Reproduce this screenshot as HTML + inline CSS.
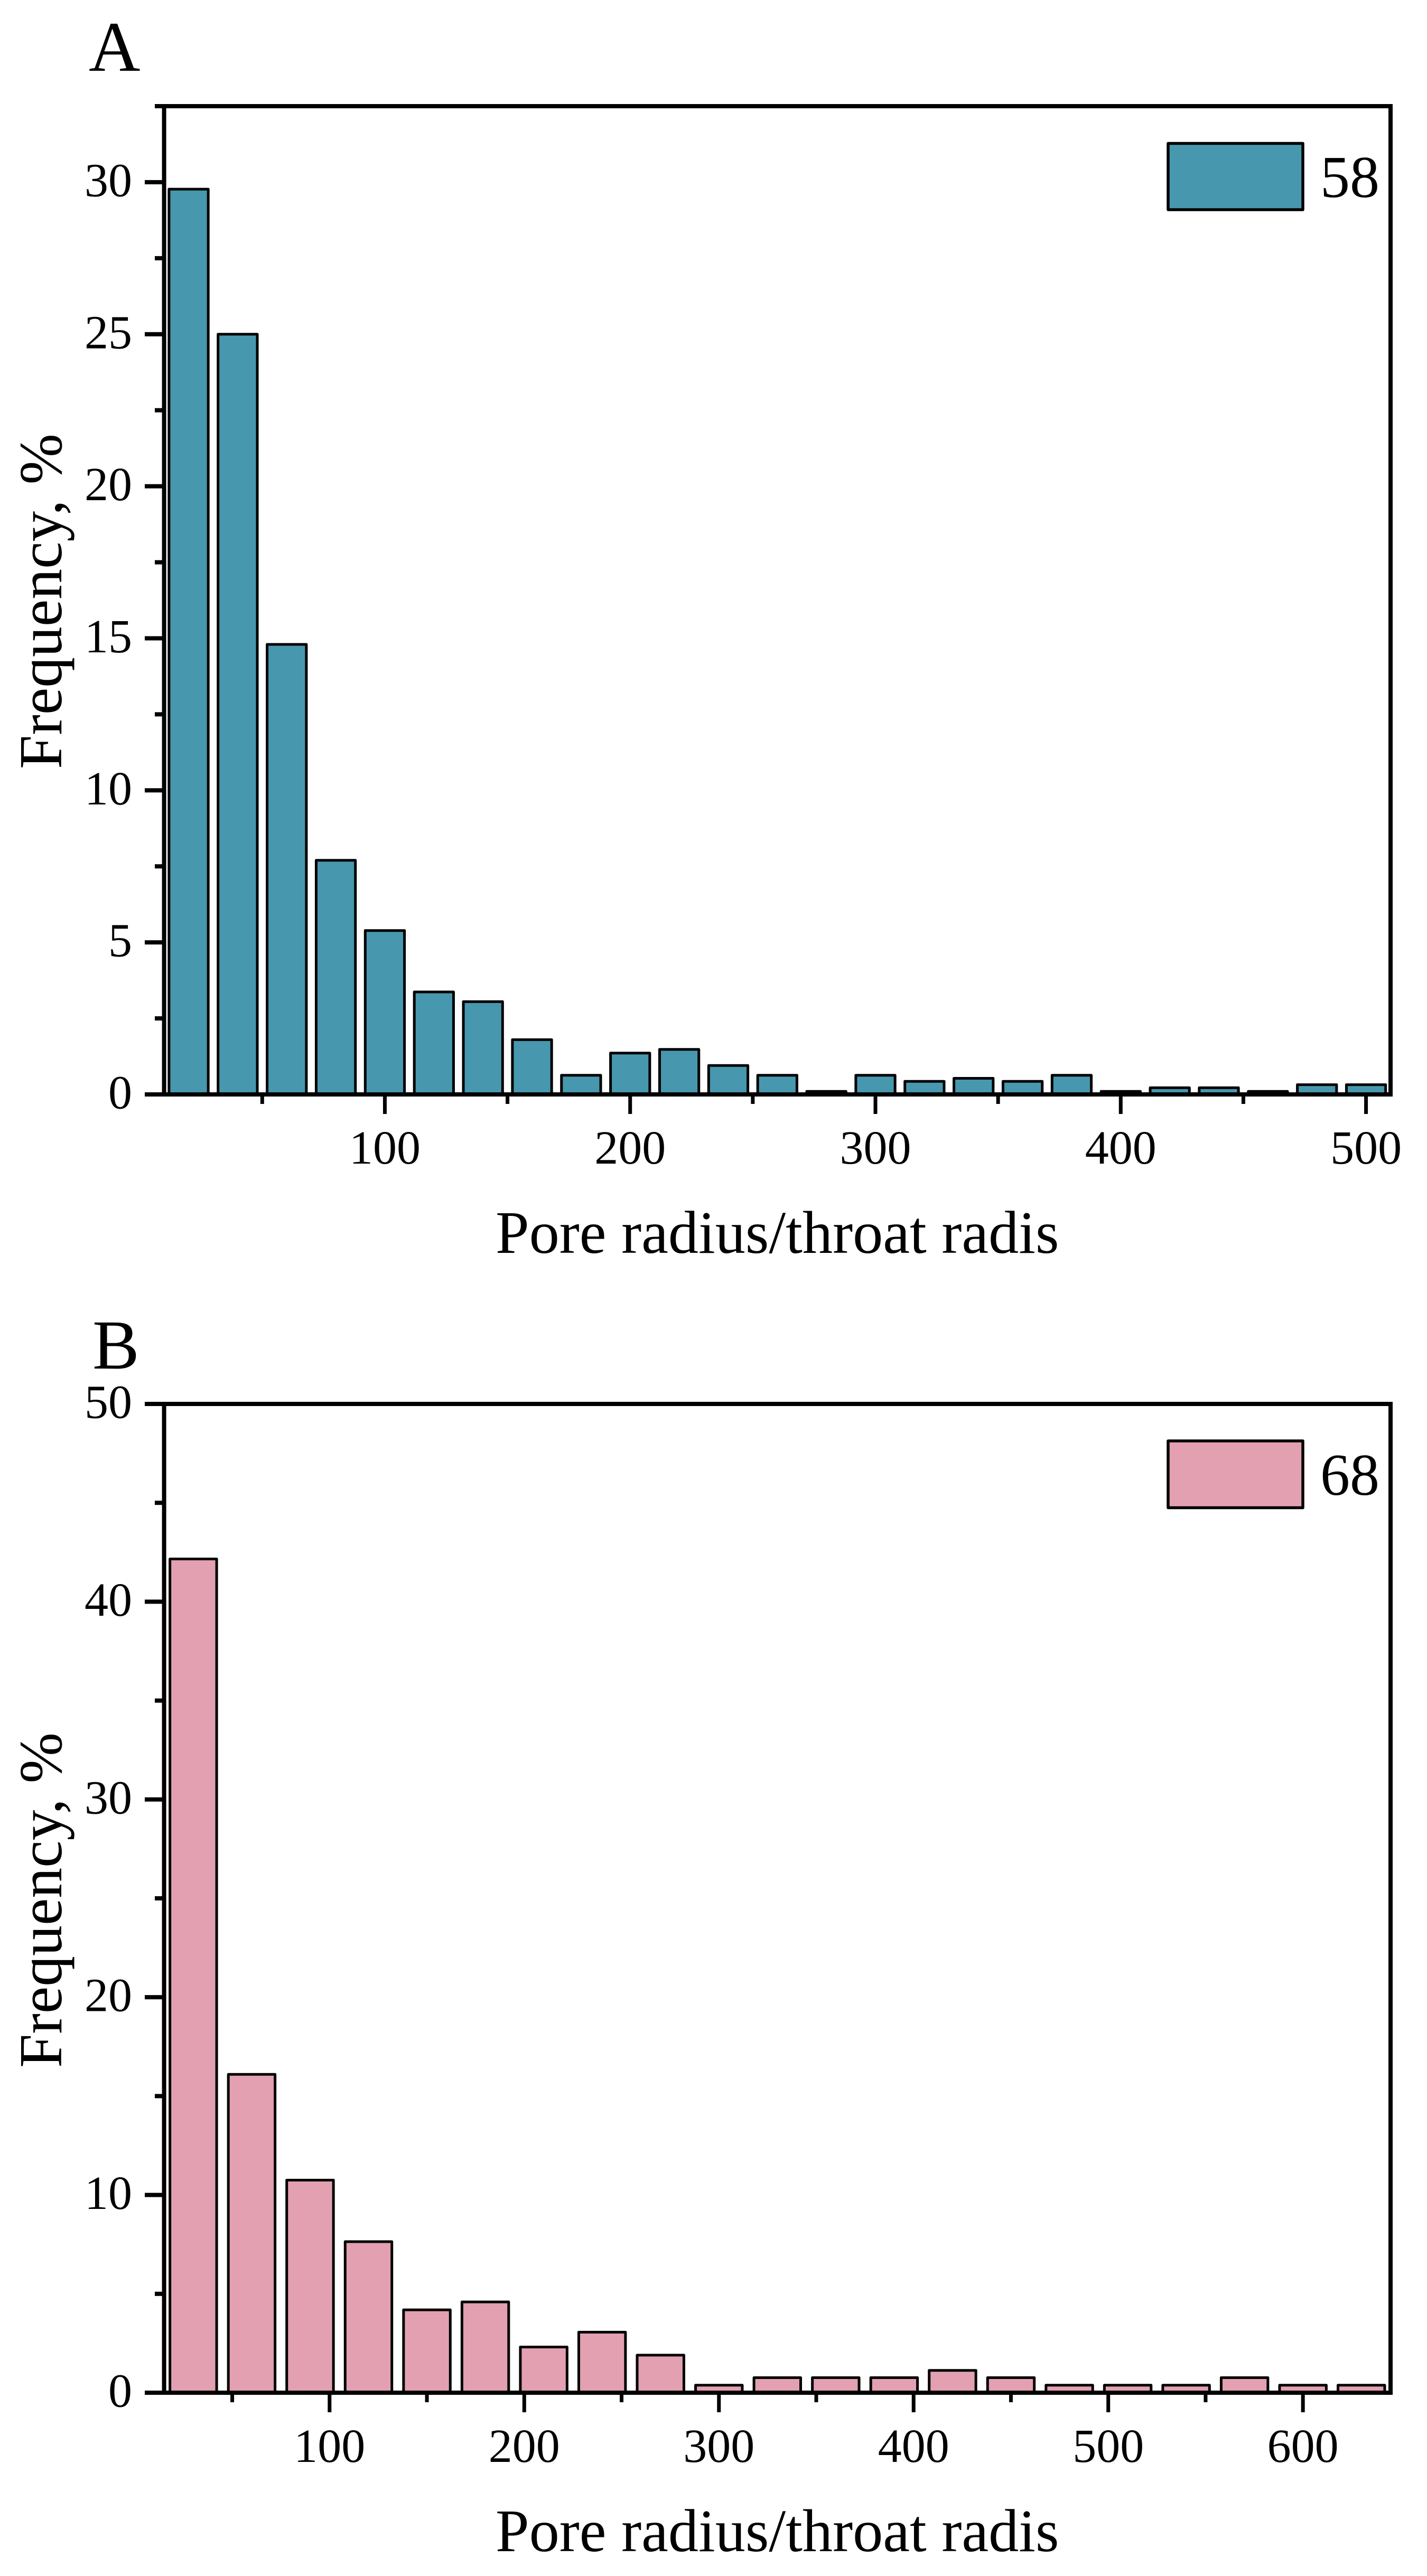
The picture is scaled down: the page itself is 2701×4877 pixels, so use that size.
<!DOCTYPE html>
<html lang="en">
<head>
<meta charset="utf-8">
<title>Pore radius / throat radius frequency distributions</title>
<style>
html,body{margin:0;padding:0;background:#fff;}
svg{display:block;}
text{font-family:"Liberation Serif","DejaVu Serif",serif;fill:#000;}
</style>
</head>
<body>
<svg id="chart" xmlns="http://www.w3.org/2000/svg" width="2701" height="4877" viewBox="0 0 2701 4877">
  <rect x="0" y="0" width="2701" height="4877" fill="#ffffff"/>
  <g id="panel-a">
    <text x="168" y="134" font-size="135">A</text>
    <text x="938" y="2372" font-size="114.3">Pore radius/throat radis</text>
    <text transform="translate(116 1456) rotate(-90)" font-size="115.7">Frequency, %</text>
  </g>
  <g id="panel-b">
    <text x="175" y="2591" font-size="133">B</text>
    <text x="938" y="4830" font-size="114.3">Pore radius/throat radis</text>
    <text transform="translate(116 3915) rotate(-90)" font-size="115.7">Frequency, %</text>
  </g>
</svg>
<script>
// Panel A data
const categoriesA = [20,40,60,80,100,120,140,160,180,200,220,240,260,280,300,320,340,360,380,400,420,440,460,480,500];
const valuesA = [29.77,25.0,14.8,7.7,5.39,3.37,3.05,1.8,0.63,1.36,1.48,0.95,0.63,0.1,0.63,0.43,0.53,0.43,0.63,0.1,0.22,0.22,0.1,0.32,0.32];
const xMajorTicksA = [100,200,300,400,500];
const xMinorTicksA = [50,150,250,350,450];
const yMajorTicksA = [0,5,10,15,20,25,30];
const yMinorTicksA = [2.5,7.5,12.5,17.5,22.5,27.5,32.5];
const xDomainA = [10,510];
const yDomainA = [0,32.5];
const binWidthA = 16;
const legendLabelA = '58';

// Panel B data
const categoriesB = [30,60,90,120,150,180,210,240,270,300,330,360,390,420,450,480,510,540,570,600,630];
const valuesB = [42.16,16.1,10.75,7.64,4.19,4.59,2.31,3.06,1.9,0.38,0.76,0.76,0.76,1.13,0.76,0.38,0.38,0.38,0.76,0.38,0.38];
const xMajorTicksB = [100,200,300,400,500,600];
const xMinorTicksB = [50,150,250,350,450,550];
const yMajorTicksB = [0,10,20,30,40,50];
const yMinorTicksB = [5,15,25,35,45];
const xDomainB = [15,645];
const yDomainB = [0,50];
const binWidthB = 24;
const legendLabelB = '68';

const SVG_NS = 'http://www.w3.org/2000/svg';

function makeEl(tag, attrs, parent) {
  const el = document.createElementNS(SVG_NS, tag);
  for (const k in attrs) el.setAttribute(k, attrs[k]);
  parent.appendChild(el);
  return el;
}

function linearScale(domain, range) {
  return function (v) {
    return range[0] + (v - domain[0]) * (range[1] - range[0]) / (domain[1] - domain[0]);
  };
}

function drawPanel(p) {
  const root = document.getElementById(p.rootId);
  const x = linearScale(p.xDomain, [310.6, 2632]);
  const y = linearScale(p.yDomain, [p.y0, p.yTop]);
  const left = x(p.xDomain[0]), right = x(p.xDomain[1]);
  const bottom = y(p.yDomain[0]), top = y(p.yDomain[1]);

  // bars
  p.categories.forEach(function (c, i) {
    const v = p.values[i];
    const w = x(p.binWidth) - x(0);
    const bar = makeEl('rect', {
      x: x(c) - w / 2, y: y(v), width: w, height: bottom - y(v),
      fill: p.color, stroke: '#000', 'stroke-width': 5, 'stroke-linejoin': 'round'
    }, root);
    
    
  });

  // y ticks
  p.yMajor.forEach(function (t) {
    const tick = makeEl('rect', { x: 274, y: y(t) - 4, width: left - 274, height: 8, fill: '#000' }, root);
    
    
    const lab = makeEl('text', { x: 250, y: y(t) + 26.5, 'font-size': 90, 'text-anchor': 'end' }, root);
    lab.textContent = String(t);
    
    
  });
  p.yMinor.forEach(function (t) {
    const tick = makeEl('rect', { x: 293, y: y(t) - 4, width: left - 293, height: 8, fill: '#000' }, root);
    
    
  });

  // x ticks
  p.xMajor.forEach(function (t) {
    const tick = makeEl('rect', { x: x(t) - 3.5, y: bottom, width: 7, height: p.majorLen, fill: '#000' }, root);
    
    
    const lab = makeEl('text', { x: x(t), y: bottom + 131, 'font-size': 90, 'text-anchor': 'middle' }, root);
    lab.textContent = String(t);
    
    
  });
  p.xMinor.forEach(function (t) {
    const tick = makeEl('rect', { x: x(t) - 3.5, y: bottom, width: 7, height: p.minorLen, fill: '#000' }, root);
    
    
  });

  // axis frame
  const leftAxis = makeEl('rect', { x: left - 4, y: top, width: 8, height: bottom - top, fill: '#000' }, root);
  
  
  const rightAxis = makeEl('rect', { x: right - 4, y: top, width: 8, height: bottom - top, fill: '#000' }, root);
  
  
  const topAxis = makeEl('rect', { x: p.topStart, y: top - 4, width: right + 4 - p.topStart, height: 8, fill: '#000' }, root);
  
  
  const bottomAxis = makeEl('rect', { x: 274, y: bottom - 4, width: right + 4 - 274, height: 8, fill: '#000' }, root);
  
  

  // legend
  const swatch = makeEl('rect', {
    x: 2211, y: p.legendTop, width: 255, height: p.legendHeight,
    fill: p.color, stroke: '#000', 'stroke-width': 5.5, 'stroke-linejoin': 'round'
  }, root);
  
  
  const legendText = makeEl('text', { x: p.legendTextX, y: p.legendBaseline, 'font-size': 112 }, root);
  legendText.textContent = p.legendLabel;
  
  
}

drawPanel({
  rootId: 'panel-a', categories: categoriesA, values: valuesA,
  xMajor: xMajorTicksA, xMinor: xMinorTicksA, yMajor: yMajorTicksA, yMinor: yMinorTicksA,
  xDomain: xDomainA, yDomain: yDomainA, binWidth: binWidthA, color: '#4797AE',
  y0: 2072, yTop: 201, majorLen: 37, minorLen: 18, topStart: 293,
  legendTop: 271.5, legendHeight: 125.5, legendTextX: 2499, legendBaseline: 373, legendLabel: legendLabelA
});
drawPanel({
  rootId: 'panel-b', categories: categoriesB, values: valuesB,
  xMajor: xMajorTicksB, xMinor: xMinorTicksB, yMajor: yMajorTicksB, yMinor: yMinorTicksB,
  xDomain: xDomainB, yDomain: yDomainB, binWidth: binWidthB, color: '#E2A0B1',
  y0: 4530, yTop: 2658, majorLen: 37, minorLen: 18, topStart: 274,
  legendTop: 2728, legendHeight: 126.5, legendTextX: 2499, legendBaseline: 2830, legendLabel: legendLabelB
});
</script>
</body>
</html>
